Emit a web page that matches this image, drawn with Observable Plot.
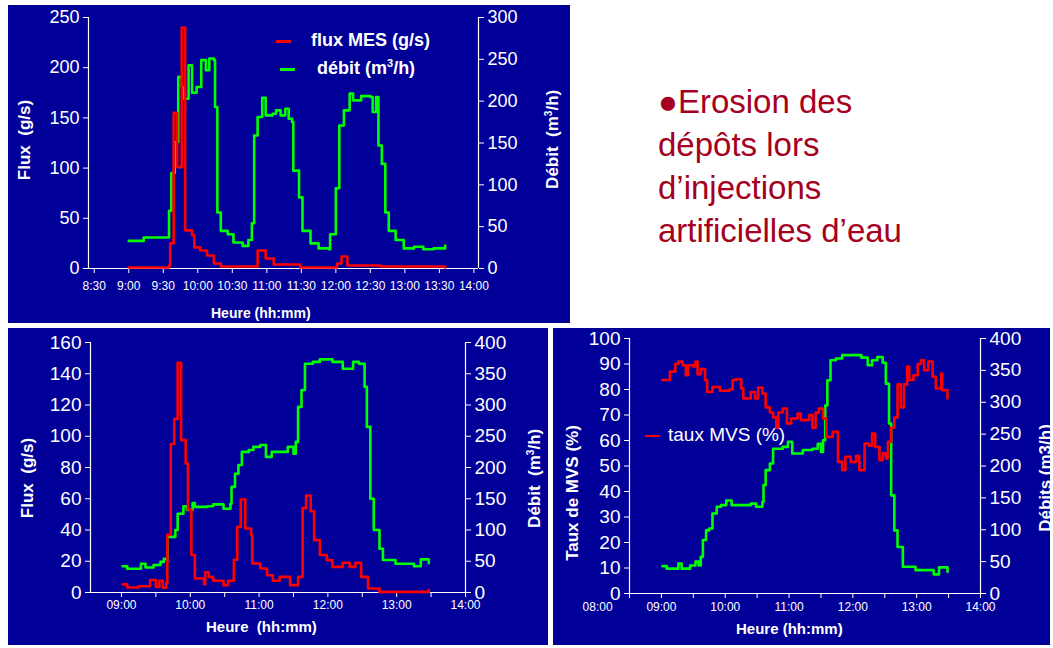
<!DOCTYPE html>
<html><head><meta charset="utf-8">
<script src="https://cdn.jsdelivr.net/npm/d3@7"></script>
<script src="https://cdn.jsdelivr.net/npm/@observablehq/plot@0.6"></script>
<style>
body{margin:0;width:1053px;height:648px;background:#fff;position:relative;overflow:hidden;font-family:"Liberation Sans",Arial,sans-serif}
.panel{position:absolute;background:#000099;color:#fff}
.panel svg{position:absolute;left:0;top:0;overflow:visible}
.t{position:absolute;white-space:nowrap;color:#fff}
.b{font-weight:bold}
.rot{transform:rotate(-90deg);transform-origin:center}
#txt{position:absolute;left:658px;top:80px;color:#a50021;font-size:33px;line-height:43px}
</style></head><body>
<div id="p1" class="panel" style="left:8px;top:5px;width:562px;height:318px"></div>
<div id="p2" class="panel" style="left:8px;top:328px;width:540px;height:317px"></div>
<div id="p3" class="panel" style="left:553px;top:328px;width:497px;height:317px"></div>
<div id="txt">●Erosion des<br>dépôts lors<br>d’injections<br>artificielles d’eau</div>
<script>
// time in minutes since midnight
const p1Flux=[[540,1],[575,3],[576,25],[579,155],[582,101],[585,101],[586,240],[588,240],[589,38],[595,33],[597,21],[602,18],[608,13],[614,5],[620,2],[647,2],[652,18],[659,10],[666,4],[689,1],[721,5],[725,12],[730,3],[759,2],[815,1]];
const p1Debit=[[540,33],[553,37],[565,37],[574,37],[575,69],[577,114],[580,151],[583,229],[586,217],[588,203],[592,243],[595,210],[599,217],[603,249],[607,237],[610,251],[614,249],[615,193],[617,67],[620,45],[626,41],[631,31],[639,27],[644,34],[647,54],[649,159],[652,181],[656,204],[659,183],[665,185],[668,189],[672,183],[676,191],[679,179],[682,175],[683,117],[688,85],[691,45],[698,30],[705,24],[714,23],[715,41],[720,96],[723,171],[727,189],[732,209],[735,201],[742,206],[750,205],[752,187],[755,205],[757,147],[760,125],[763,67],[766,45],[772,34],[779,24],[788,26],[796,23],[805,24],[815,27.5]];
const p2Flux=[[541,5.3],[545,3.2],[555,4],[565,8],[570,3.6],[573,7.5],[576,3],[579,6],[580,37],[583,95],[586,111],[589,147],[592,97.5],[596,82.5],[598,53],[601,24],[604,9],[612,5.3],[613,13],[616,10],[620,7.5],[629,4.7],[633,7.5],[638,21],[641,42],[644,59.5],[648,41],[653,37],[654,18.6],[661,15.4],[667,11],[672,7.5],[678,10],[687,4.7],[694,10],[698,54],[701,62],[705,52],[708,33.5],[713,24],[719,20.7],[724,16.4],[733,19],[739,16.4],[744,19],[749,10],[755,2.6],[765,0.4],[794,0.4],[808,1.5]];
const p2Debit=[[541,42],[545,38],[557,46],[561,40],[568,44],[574,49],[577,54],[580,89],[587,100],[589,126],[594,138],[597,132],[602,143],[604,137],[615,138],[620,141],[629,134],[635,142],[636,169],[639,190],[642,204],[645,225],[651,228],[655,233],[661,236],[666,217],[671,225],[678,225],[685,233],[690,222],[692,241],[694,297],[697,324],[700,366],[707,369],[713,373],[724,369],[733,358],[742,369],[747,366],[752,329],[754,265],[757,150],[760,100],[765,70],[768,52],[779,46],[795,42],[801,53],[808,47]];
const p3Taux=[[541,83.7],[548,87],[553,90],[556,91],[560,89.5],[563,85.6],[565,89.5],[570,89],[572,91],[574,86],[577,88],[581,83.7],[583,79],[588,81],[595,79.5],[604,80],[607,83.7],[610,84],[615,80.4],[617,76.5],[622,76.5],[624,79],[628,76.5],[631,80.8],[635,78.4],[638,73],[642,71],[645,69],[648,65],[650,71],[654,72.5],[658,66.7],[662,68.6],[668,70.6],[671,68],[679,70],[682,65],[685,71],[688,72.5],[692,68.6],[695,61.4],[701,63.4],[706,51.6],[710,48.4],[713,53.6],[718,51.6],[723,54],[726,48.4],[729,48.4],[731,58.8],[735,58],[738,62.7],[741,57.5],[745,52.3],[748,55],[751,53],[753,59.5],[756,65],[759,69],[762,82],[765,73],[768,82],[771,89],[773,83.7],[777,85.6],[781,90],[784,91.5],[787,87.6],[791,91],[795,85],[798,80.4],[803,86.3],[804,79.7],[809,76.5]];
const p3Debit=[[541,43],[545,39],[556,47],[559,39],[567,44],[572,50],[575,44],[577,57.5],[579,84],[582,99],[585,102],[588,125.5],[592,136],[596,138.6],[601,146],[606,138.6],[617,138.6],[624,141],[629,136],[635,144],[636,170],[638,193.5],[642,204],[645,227],[654,230],[659,238],[663,219.6],[673,225],[682,227],[687,235],[690,222],[692,240.5],[694,295],[696,334.6],[699,366],[704,368.6],[710,374],[717,374],[728,370],[734,358],[738,366],[743,371],[748,362],[751,329],[754,266.7],[756,154],[759,99],[762,73],[767,42],[779,36.6],[796,30],[801,41],[809,34]];
const p1YTicks=[0,50,100,150,200,250], p1Y2Ticks=[0,50,100,150,200,250,300];
const p2YTicks=[0,20,40,60,80,100,120,140,160], p2Y2Ticks=[0,50,100,150,200,250,300,350,400];
const p3YTicks=[0,10,20,30,40,50,60,70,80,90,100], p3Y2Ticks=[0,50,100,150,200,250,300,350,400];
const p1XTicks=d3.range(510,841,30), p2XTicks=d3.range(540,841,30), p3XTicks=d3.range(510,841,30), p3XLabels=d3.range(480,841,60);

const hm=(m,pad)=>{const h=Math.floor(m/60),mm=m%60;return (pad&&h<10?"0":"")+h+":"+String(mm).padStart(2,"0");};

function panel(o){
  const k=o.yMax/o.y2Max;
  const W=o.w,H=o.h;
  const marks=[
    Plot.ruleX([o.xDomain[0],o.xDomain[1]],{stroke:"white",strokeWidth:1.2}),
    Plot.ruleY([0],{stroke:"white",strokeWidth:1.2}),
    Plot.axisY(o.yTicks,{anchor:"left",tickSize:5,fontSize:o.yFont,tickPadding:4,label:null}),
    Plot.axisY(o.y2Ticks.map(v=>v*k),{anchor:"right",tickSize:5,fontSize:o.yFont,tickPadding:4,label:null,tickFormat:d=>String(Math.round(d/k))}),
    Plot.axisX(o.xTicks,{tickSize:5,fontSize:12,label:null,tickPadding:o.xPad||3,tickFormat:o.xFmt}),
  ];
  if(o.xLabels) marks.push(Plot.axisX(o.xLabels,{tickSize:0,fontSize:12,label:null,tickPadding:9,tickFormat:d=>hm(d,true)}));
  marks.push(Plot.line(o.green,{x:d=>d[0],y:d=>d[1]*k,stroke:"#00ff00",strokeWidth:2.6,curve:"step-after"}));
  marks.push(Plot.line(o.red,{x:d=>d[0],y:d=>d[1],stroke:"#ff0000",strokeWidth:2.6,curve:"step-after"}));
  const svg=Plot.plot({width:W,height:H,marginLeft:o.ml,marginRight:W-o.xr,marginTop:o.mt,marginBottom:H-o.yb,
    style:{background:"transparent",color:"white",fontFamily:"Liberation Sans, Arial, sans-serif",overflow:"visible"},
    x:{domain:o.xDomain},y:{domain:[0,o.yMax]},marks});
  document.getElementById(o.el).appendChild(svg);
}
panel({el:"p1",w:562,h:318,ml:80,xr:470,mt:12,yb:263,xPad:8,xDomain:[505,844],xTicks:p1XTicks,xFmt:d=>hm(d,false),yMax:250,yTicks:p1YTicks,y2Max:300,y2Ticks:p1Y2Ticks,red:p1Flux,green:p1Debit,yFont:18});
panel({el:"p2",w:540,h:317,ml:82,xr:457,mt:14,yb:264,xDomain:[513,840],xTicks:p2XTicks,xFmt:d=>d%60?"":hm(d,true),yMax:160,yTicks:p2YTicks,y2Max:400,y2Ticks:p2Y2Ticks,red:p2Flux,green:p2Debit,yFont:19});
panel({el:"p3",w:497,h:317,ml:76,xr:427,mt:10,yb:265,xDomain:[510,840],xTicks:p3XTicks,xFmt:()=>"",xLabels:p3XLabels,yMax:100,yTicks:p3YTicks,y2Max:400,y2Ticks:p3Y2Ticks,red:p3Taux,green:p3Debit,yFont:19});

function label(el,html,css,cls){const d=document.createElement("div");d.className="t "+(cls||"");d.innerHTML=html;d.style.cssText=css;document.getElementById(el).appendChild(d);}
// panel 1
label("p1","Heure (hh:mm)","left:203px;top:300px;font-size:14px","b");
label("p1","Flux&nbsp; (g/s)","left:-38px;top:125px;font-size:17px;width:110px;text-align:center","b rot");
label("p1","Débit&nbsp; (m<sup style='font-size:10px'>3</sup>/h)","left:480px;top:124px;font-size:17px;width:130px;text-align:center","b rot");
label("p1","<span style='display:inline-block;width:15px;height:3px;background:#ff0000;vertical-align:middle;margin-right:20px'></span>flux MES (g/s)","left:268px;top:25px;font-size:18px","b");
label("p1","<span style='display:inline-block;width:15px;height:3px;background:#00ff00;vertical-align:middle;margin-right:22px'></span>débit (m<sup style='font-size:11px'>3</sup>/h)","left:272px;top:52px;font-size:18px","b");
// panel 2
label("p2","Heure&nbsp; (hh:mm)","left:198px;top:290px;font-size:15px","b");
label("p2","Flux&nbsp; (g/s)","left:-40px;top:140px;font-size:17px;width:120px;text-align:center","b rot");
label("p2","Débit&nbsp; (m<sup style='font-size:10px'>3</sup>/h)","left:457px;top:140px;font-size:17px;width:140px;text-align:center","b rot");
// panel 3
label("p3","Heure (hh:mm)","left:183px;top:292px;font-size:15px","b");
label("p3","Taux de MVS (%)","left:-55px;top:155px;font-size:17px;width:150px;text-align:center","b rot");
label("p3","Débits (m3/h)","left:423px;top:140px;font-size:17px;width:140px;text-align:center","b rot");
label("p3","<span style='display:inline-block;width:15px;height:2px;background:#ff0000;vertical-align:middle;margin-right:8px'></span>taux MVS (%)","left:92px;top:96px;font-size:19px");
</script></body></html>
